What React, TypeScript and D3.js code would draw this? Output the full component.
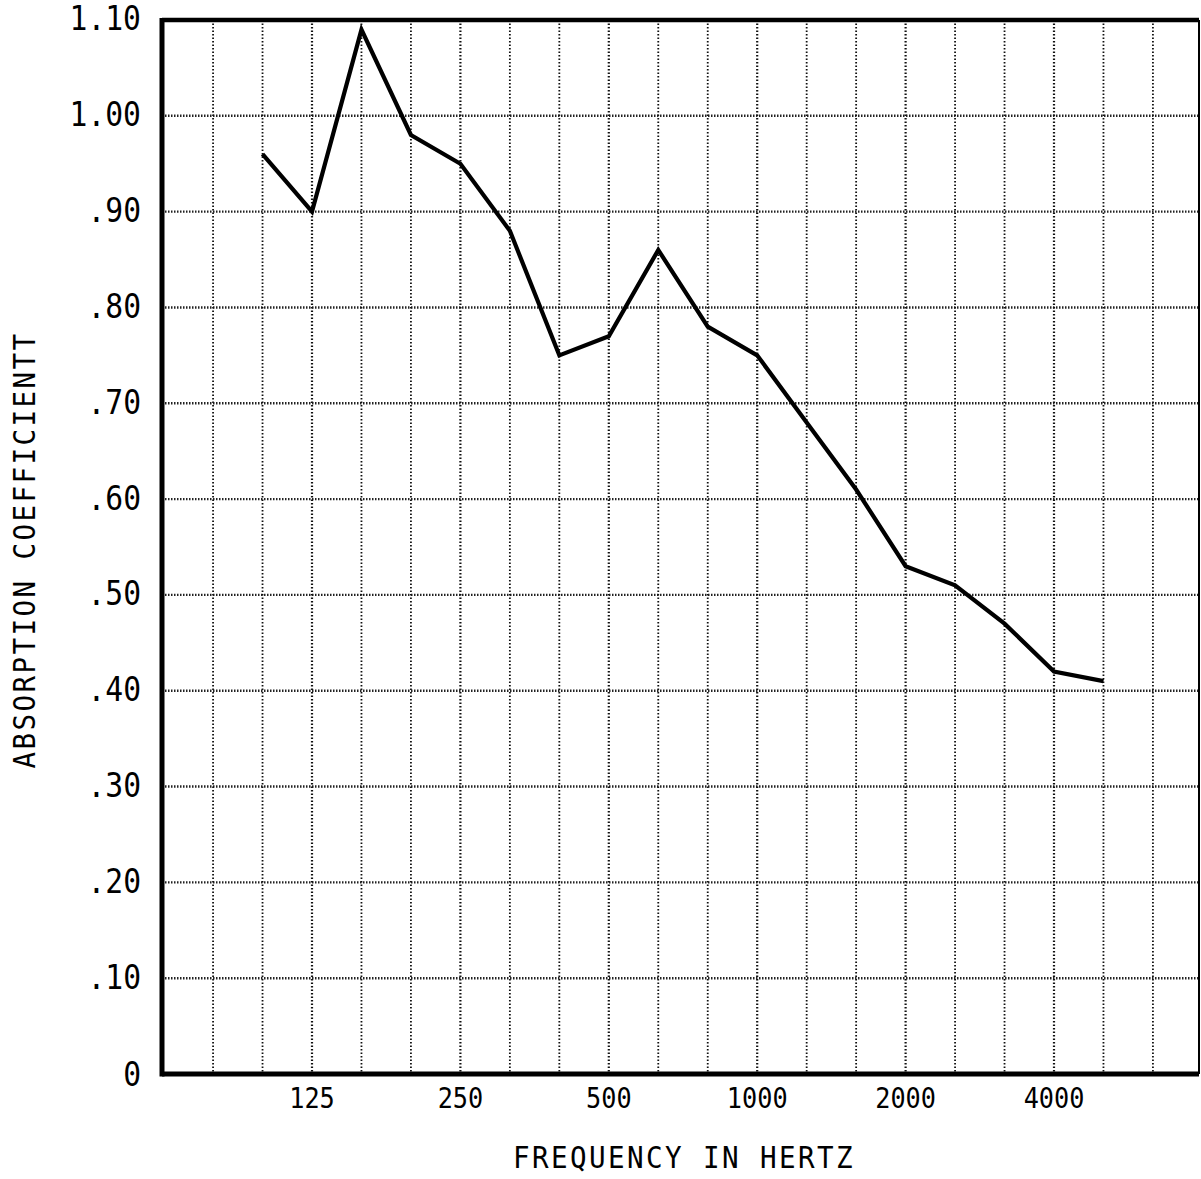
import React from "react";
import * as d3 from "d3";

// One-third-octave band centres drawn as vertical grid lines
const gridFreqs = [80, 100, 125, 160, 200, 250, 315, 400, 500, 630, 800, 1000, 1250, 1600, 2000, 2500, 3150, 4000, 5000, 6300];
// Labelled frequencies on the x axis
const xTickLabels = [125, 250, 500, 1000, 2000, 4000];
// Data
const dataFreqs = [100, 125, 160, 200, 250, 315, 400, 500, 630, 800, 1000, 1250, 1600, 2000, 2500, 3150, 4000, 5000];
const absorption = [0.96, 0.90, 1.09, 0.98, 0.95, 0.88, 0.75, 0.77, 0.86, 0.78, 0.75, 0.68, 0.61, 0.53, 0.51, 0.47, 0.42, 0.41];
// Y ticks
const yTicks = [0, 0.1, 0.2, 0.3, 0.4, 0.5, 0.6, 0.7, 0.8, 0.9, 1.0, 1.1];
const yTickLabels = ["0", ".10", ".20", ".30", ".40", ".50", ".60", ".70", ".80", ".90", "1.00", "1.10"];

const W = 1201;
const H = 1179;
const left = 162;
const right = 1199;
const top = 20;
const bottom = 1074;
const FONT = "'DejaVu Sans Mono', monospace";

export default function App() {
  const idx = (f: number) => gridFreqs.indexOf(f);
  const x = d3.scaleLinear().domain([idx(125), idx(4000)]).range([312, 1054]);
  const y = d3.scaleLinear().domain([0, 1.1]).range([bottom, top]);

  const line = d3
    .line<number>()
    .x((_, i) => x(idx(dataFreqs[i])))
    .y((d) => y(d));

  const octave = new Set(xTickLabels);

  return (
    <svg
      width={W}
      height={H}
      viewBox={`0 0 ${W} ${H}`}
      style={{ position: "absolute", left: 0, top: 0, background: "#fff" }}
    >
      <rect x={0} y={0} width={W} height={H} fill="#fff" />
      {/* horizontal grid */}
      {yTicks.slice(1, -1).map((t) => (
        <line
          key={"h" + t}
          x1={left}
          x2={right}
          y1={y(t)}
          y2={y(t)}
          stroke="#222"
          strokeWidth={2.4}
          strokeDasharray="1.5,1.5"
        />
      ))}
      {/* vertical grid */}
      {gridFreqs.map((f) => (
        <line
          key={"v" + f}
          x1={x(idx(f))}
          x2={x(idx(f))}
          y1={top}
          y2={bottom}
          stroke="#111"
          strokeWidth={octave.has(f) ? 2.2 : 1.8}
          strokeDasharray="1.5,2"
        />
      ))}
      {/* frame */}
      <line x1={left} x2={right} y1={top} y2={top} stroke="#000" strokeWidth={4.5} />
      <line x1={left} x2={right} y1={bottom} y2={bottom} stroke="#000" strokeWidth={5} />
      <line x1={left} x2={left} y1={top - 2} y2={bottom + 2.5} stroke="#000" strokeWidth={5} />
      <line x1={right} x2={right} y1={top} y2={bottom} stroke="#000" strokeWidth={2} />

      {/* data line */}
      <path
        d={line(absorption) || ""}
        fill="none"
        stroke="#000"
        strokeWidth={4.2}
        strokeLinejoin="miter"
      />

      {/* y tick labels */}
      {yTicks.map((t, i) => (
        <text
          key={"yl" + t}
          transform={`translate(141,${y(t) + (i === 0 ? 3 : 1)}) scale(0.9,1)`}
          textAnchor="end"
          dominantBaseline="middle"
          fontFamily={FONT}
          fontSize={33}
          fill="#000"
        >
          {yTickLabels[i]}
        </text>
      ))}

      {/* x tick labels */}
      {xTickLabels.map((f) => (
        <text
          key={"xl" + f}
          transform={`translate(${x(idx(f))},1100) scale(0.87,1)`}
          textAnchor="middle"
          dominantBaseline="middle"
          fontFamily={FONT}
          fontSize={29}
          fill="#000"
        >
          {f}
        </text>
      ))}

      {/* axis titles */}
      <text
        transform="translate(684,1160) scale(0.92,1)"
        textAnchor="middle"
        dominantBaseline="middle"
        fontFamily={FONT}
        fontSize={30}
        letterSpacing={2.6}
        fill="#000"
      >
        FREQUENCY IN HERTZ
      </text>
      <text
        transform={`translate(27,550) rotate(-90) scale(0.92,1)`}
        textAnchor="middle"
        dominantBaseline="middle"
        fontFamily={FONT}
        fontSize={30}
        letterSpacing={2.6}
        fill="#000"
      >
        ABSORPTION COEFFICIENTT
      </text>
    </svg>
  );
}
